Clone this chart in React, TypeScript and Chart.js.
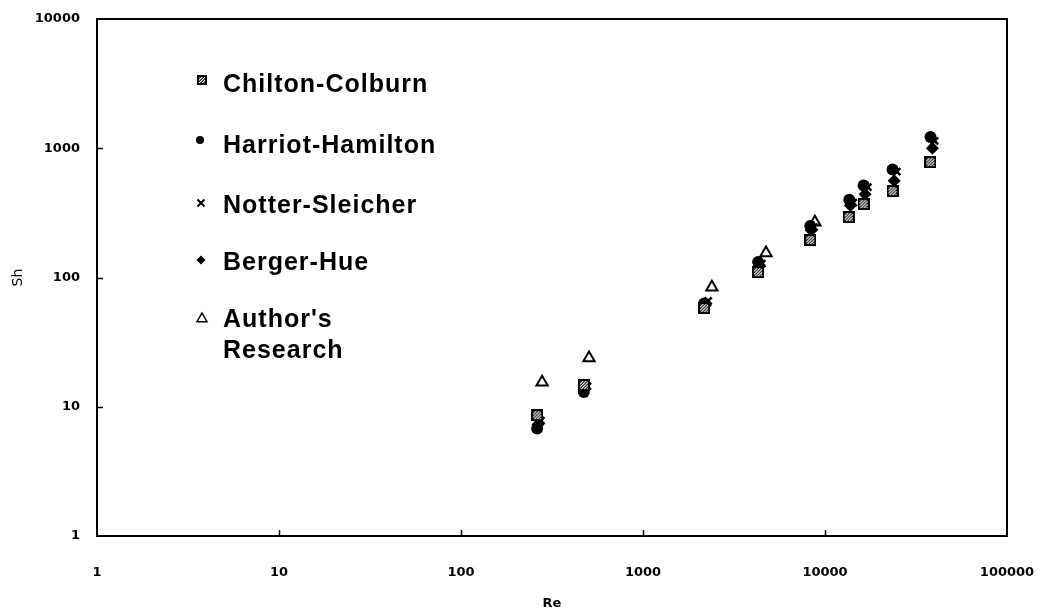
import React, { useEffect, useRef } from "react";
import { Chart, registerables } from "chart.js";

Chart.register(...registerables);

// ---- data ----
const xTickValues = [1, 10, 100, 1000, 10000, 100000];
const yTickValues = [1, 10, 100, 1000, 10000];

const reChilton = [262, 473, 2170, 4290, 8300, 13500, 16300, 23500, 37900];
const shChilton = [8.6, 14.7, 58, 110, 195, 293, 370, 466, 781];

const reHarriot = [262, 473, 2170, 4290, 8300, 13600, 16300, 23500, 38000];
const shHarriot = [6.8, 13.0, 63, 132, 250, 400, 515, 685, 1220];

const reNotter = [275, 495, 2280, 4500, 8700, 14300, 17200, 24800, 40000];
const shNotter = [7.8, 14.4, 66, 128, 245, 380, 500, 660, 1140];

const reBerger = [265, 478, 2200, 4350, 8400, 13800, 16600, 24000, 38900];
const shBerger = [7.3, 13.7, 61, 125, 232, 360, 440, 560, 1000];

const reAuthor = [279, 505, 2390, 4740, 8800];
const shAuthor = [15.5, 23.8, 84, 155, 268];

const seriesNames = ["Chilton-Colburn", "Harriot-Hamilton", "Notter-Sleicher", "Berger-Hue", "Author's Research"];

function pts(xs: number[], ys: number[]) {
  return xs.map((x, i) => ({ x, y: ys[i] }));
}

function makeChecker(size: number) {
  const c = document.createElement("canvas");
  c.width = size;
  c.height = size;
  const g = c.getContext("2d")!;
  g.fillStyle = "#000";
  g.fillRect(0, 0, size, size);
  for (let y = 2; y < size - 2; y++) {
    for (let x = 2; x < size - 2; x++) {
      const k = (x + y) % 3;
      g.fillStyle = k === 0 ? "#fff" : k === 1 ? "#777" : "#222";
      g.fillRect(x, y, 1, 1);
    }
  }
  return c;
}

export default function App() {
  const ref = useRef<HTMLCanvasElement | null>(null);

  useEffect(() => {
    if (!ref.current) return;
    const checker = makeChecker(12);
    const checkerSmall = makeChecker(10);

    function drawMarker(ctx: any, style: any, r: number, bw: number, fill: string, x: number, y: number) {
      ctx.save();
      ctx.fillStyle = fill;
      ctx.strokeStyle = "#000";
      ctx.lineWidth = bw;
      if (typeof style !== "string") {
        ctx.drawImage(style, x - style.width / 2, y - style.height / 2);
      } else if (style === "circle") {
        ctx.beginPath();
        ctx.arc(x, y, r, 0, Math.PI * 2);
        ctx.fill();
      } else if (style === "crossRot") {
        ctx.beginPath();
        ctx.moveTo(x - r, y - r);
        ctx.lineTo(x + r, y + r);
        ctx.moveTo(x + r, y - r);
        ctx.lineTo(x - r, y + r);
        ctx.stroke();
      } else if (style === "rectRot") {
        ctx.beginPath();
        ctx.moveTo(x, y - r);
        ctx.lineTo(x + r, y);
        ctx.lineTo(x, y + r);
        ctx.lineTo(x - r, y);
        ctx.closePath();
        ctx.fill();
      } else if (style === "triangle") {
        ctx.beginPath();
        ctx.moveTo(x, y - r);
        ctx.lineTo(x + r, y + r * 0.75);
        ctx.lineTo(x - r, y + r * 0.75);
        ctx.closePath();
        ctx.fill();
        ctx.stroke();
      }
      ctx.restore();
    }

    const frame = {
      id: "frameAndLegend",
      afterDraw(chart: any) {
        const ctx = chart.ctx;
        const a = chart.chartArea;
        const xs = chart.scales.x;
        const ys = chart.scales.y;
        ctx.save();
        ctx.strokeStyle = "#000";
        ctx.lineWidth = 2;
        ctx.strokeRect(a.left, a.top, a.right - a.left, a.bottom - a.top);
        ctx.lineWidth = 1.5;
        ctx.beginPath();
        for (const v of xTickValues.slice(1, -1)) {
          const px = Math.round(xs.getPixelForValue(v)) + 0.5;
          ctx.moveTo(px, a.bottom);
          ctx.lineTo(px, a.bottom - 6);
        }
        for (const v of yTickValues.slice(1, -1)) {
          const py = Math.round(ys.getPixelForValue(v)) + 0.5;
          ctx.moveTo(a.left, py);
          ctx.lineTo(a.left + 6, py);
        }
        ctx.stroke();

        // legend inside the plot
        const items = [
          { style: checkerSmall, r: 4, bw: 0, fill: "#000", mx: 202, my: 80, lines: [seriesNames[0]], ty: 85 },
          { style: "circle", r: 4, bw: 0, fill: "#000", mx: 200, my: 140, lines: [seriesNames[1]], ty: 146 },
          { style: "crossRot", r: 3.5, bw: 2, fill: "#000", mx: 201, my: 203, lines: [seriesNames[2]], ty: 206 },
          { style: "rectRot", r: 4.5, bw: 0, fill: "#000", mx: 201, my: 260, lines: [seriesNames[3]], ty: 263 },
          { style: "triangle", r: 5, bw: 1.5, fill: "#fff", mx: 202, my: 318, lines: ["Author's", "Research"], ty: 320 },
        ];
        ctx.textAlign = "left";
        ctx.textBaseline = "middle";
        (ctx as any).letterSpacing = "1px";
        ctx.font = "bold 25px 'Liberation Sans'";
        for (const it of items) {
          drawMarker(ctx, it.style, it.r, it.bw, it.fill, it.mx, it.my);
          ctx.fillStyle = "#000";
          it.lines.forEach((t, i) => ctx.fillText(t, 223, it.ty + i * 31));
        }
        ctx.restore();
      },
    };

    const tickFont = { family: "'DejaVu Sans'", weight: "bold" as const, size: 13 };

    const chart = new Chart(ref.current, {
      type: "scatter",
      data: {
        datasets: [
          {
            label: seriesNames[0],
            data: pts(reChilton, shChilton),
            pointStyle: checker as any,
            pointRadius: 6,
            backgroundColor: "#000",
            borderColor: "#000",
          },
          {
            label: seriesNames[1],
            data: pts(reHarriot, shHarriot),
            pointStyle: "circle",
            pointRadius: 6,
            borderWidth: 0,
            backgroundColor: "#000",
            borderColor: "#000",
          },
          {
            label: seriesNames[2],
            data: pts(reNotter, shNotter),
            pointStyle: "crossRot",
            pointRadius: 5,
            borderWidth: 2.5,
            backgroundColor: "#000",
            borderColor: "#000",
          },
          {
            label: seriesNames[3],
            data: pts(reBerger, shBerger),
            pointStyle: "rectRot",
            pointRadius: 6.5,
            borderWidth: 0,
            backgroundColor: "#000",
            borderColor: "#000",
          },
          {
            label: seriesNames[4],
            data: pts(reAuthor, shAuthor),
            pointStyle: "triangle",
            pointRadius: 6.5,
            borderWidth: 2,
            backgroundColor: "#fff",
            borderColor: "#000",
          },
        ],
      },
      options: {
        responsive: false,
        animation: false,
        events: [],
        layout: { padding: { left: 0, top: 19, right: 33, bottom: 0 } },
        plugins: { legend: { display: false }, tooltip: { enabled: false } },
        scales: {
          x: {
            type: "logarithmic",
            min: 1,
            max: 100000,
            afterBuildTicks: (s: any) => {
              s.ticks = xTickValues.map((v) => ({ value: v }));
            },
            afterFit: (s: any) => {
              s.height = 77;
              s.paddingLeft = 0;
              s.paddingRight = 0;
            },
            grid: { display: false, drawTicks: false },
            border: { display: false },
            ticks: {
              autoSkip: false,
              maxRotation: 0,
              padding: 29,
              color: "#000",
              font: tickFont,
              callback: (v: any) => String(v),
            },
            title: {
              display: true,
              text: "Re",
              color: "#000",
              font: tickFont,
              padding: { top: 0, bottom: 2 },
            },
          },
          y: {
            type: "logarithmic",
            min: 1,
            max: 10000,
            afterBuildTicks: (s: any) => {
              s.ticks = yTickValues.map((v) => ({ value: v }));
            },
            afterFit: (s: any) => {
              s.width = 97;
              s.paddingTop = 0;
              s.paddingBottom = 0;
            },
            grid: { display: false, drawTicks: false },
            border: { display: false },
            ticks: {
              autoSkip: false,
              padding: 17,
              color: "#000",
              font: tickFont,
              callback: (v: any) => String(v),
            },
            title: {
              display: true,
              text: "Sh",
              color: "#000",
              font: { family: "'DejaVu Sans'", size: 14 },
              padding: { top: 10, bottom: 0 },
            },
          },
        },
      },
      plugins: [frame],
    });
    return () => chart.destroy();
  }, []);

  return (
    <div style={{ position: "fixed", left: 0, top: 0, width: 1040, height: 613, background: "#fff" }}>
      <canvas ref={ref} width={1040} height={613} />
    </div>
  );
}
